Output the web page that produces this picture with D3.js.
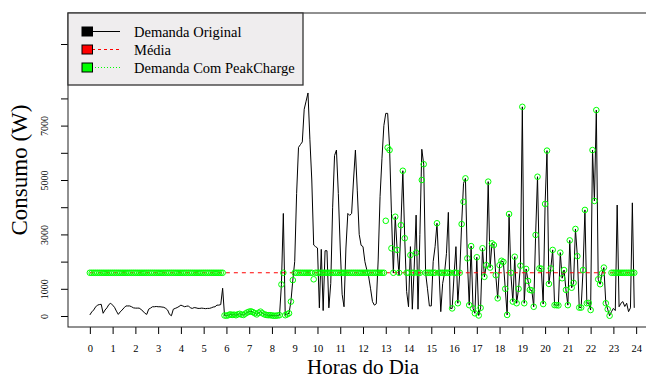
<!DOCTYPE html>
<html><head><meta charset="utf-8">
<script src="https://cdn.jsdelivr.net/npm/d3@7"></script>
<style>
body{margin:0;background:#fff}
svg{display:block}
text{font-family:"Liberation Serif","Times New Roman",serif;fill:#000}
</style>
</head><body>
<svg id="c" width="646" height="378"></svg>
<script>
// ---------- data ----------
const hourTicks = [0,1,2,3,4,5,6,7,8,9,10,11,12,13,14,15,16,17,18,19,20,21,22,23,24];
const yTicks = [0,1000,2000,3000,4000,5000,6000,7000,8000,10000];
const yLabels = [0,1000,3000,5000,7000];
const legendLabels = ["Demanda Original","Média","Demanda Com PeakCharge"];
const stepsPerHour = 12; // 5-minute samples
const mediaValue = 1590;

const demandaOriginal = [
 40,150,220,330,400,420,430,100,220,300,
 420,470,400,320,180,60,150,220,300,370,
 370,370,340,300,290,290,290,240,180,100,
 60,250,290,340,340,350,340,340,330,320,
 280,220,60,10,250,280,310,350,400,370,
 340,360,370,300,280,310,300,280,280,290,
 280,270,280,280,300,330,340,400,400,420,
 1020,20,10,30,60,40,50,30,60,80,
 50,40,90,130,160,170,140,100,60,120,
 160,100,60,40,30,30,20,10,10,20,
 30,1160,3770,30,60,100,530,1320,2000,4500,
 6200,6300,6400,7600,7900,8200,6500,5000,2610,2550,
 2500,300,2450,200,2400,2400,300,1200,4000,5900,
 6100,4500,2500,800,340,2500,3770,3700,3770,5000,
 6100,4600,3000,2600,2550,2000,1700,1440,1000,530,
 400,450,2060,4400,5800,7000,7450,7450,6220,3780,
 1580,3650,2430,1500,3340,5340,2860,900,340,2550,
 250,1800,3710,250,3000,6130,5580,1590,1000,370,
 370,2000,2550,3410,1800,160,1200,1590,2300,3810,
 280,280,1500,2550,470,1590,3380,4880,5060,2120,
 400,2570,280,100,2160,20,300,2490,1440,1870,
 4940,1780,2670,2610,1500,650,1870,2030,1990,1000,
 40,3750,1500,530,2180,470,1000,1850,7690,470,
 1730,1290,960,940,340,2980,5120,1750,1740,440,
 4120,6080,1180,1750,2430,400,400,390,2330,1390,
 1690,960,400,2780,1040,1220,3200,2200,310,310,
 1690,3900,470,480,220,6100,4230,7570,1350,1170,
 1570,1780,470,250,10,160,280,200,4080,340,
 470,530,350,470,160,300,4160,300
];

const demandaPeakCharge = [
 1590,1590,1590,1590,1590,1590,1590,1590,1590,1590,
 1590,1590,1590,1590,1590,1590,1590,1590,1590,1590,
 1590,1590,1590,1590,1590,1590,1590,1590,1590,1590,
 1590,1590,1590,1590,1590,1590,1590,1590,1590,1590,
 1590,1590,1590,1590,1590,1590,1590,1590,1590,1590,
 1590,1590,1590,1590,1590,1590,1590,1590,1590,1590,
 1590,1590,1590,1590,1590,1590,1590,1590,1590,1590,
 1590,20,10,30,60,40,50,30,60,80,
 50,40,90,130,160,170,140,100,60,120,
 160,100,60,40,30,30,20,10,10,20,
 30,1160,1590,30,60,100,530,1320,1590,1590,
 1590,1590,1590,1590,1590,1590,1590,1590,1350,1590,
 1590,1590,1590,1590,1590,1590,1590,1590,1590,1590,
 1590,1590,1590,1590,1590,1590,1590,1590,1590,1590,
 1590,1590,1590,1590,1590,1590,1590,1590,1590,1590,
 1590,1590,1590,1590,1590,1590,3500,6190,6100,2490,
 1590,3650,2430,1590,3340,5340,2860,1590,1590,2240,
 1590,1590,2330,1590,1590,5000,5580,1590,1590,1590,
 1590,1590,1590,3410,1590,1590,1590,1590,1590,1590,
 1590,280,1590,1590,470,1590,3380,4200,5060,2120,
 400,2570,280,100,2160,20,300,2490,1440,1870,
 4940,1780,2670,2610,1500,650,1870,2030,1990,1000,
 40,3750,1590,530,2180,470,1000,1850,7690,470,
 1730,1290,960,940,340,2980,5120,1750,1740,440,
 4120,6080,1180,1750,2430,400,400,390,2330,1390,
 1690,960,400,2780,1040,1220,3200,2200,310,310,
 1690,3900,470,480,220,6100,4230,7570,1350,1170,
 1570,1780,470,250,10,1590,1590,1590,1590,1590,
 1590,1590,1590,1590,1590,1590,1590,1590
];

// ---------- chart ----------
const svg = d3.select("#c");
const x = d3.scaleLinear().domain([-0.96, 24.96]).range([68, 658]);
const y = d3.scaleLinear().domain([-404, 11140]).range([327, 13]);
const hourOf = i => i / stepsPerHour;

// x axis
const gx = svg.append("g").attr("transform","translate(0,327)")
  .call(d3.axisBottom(x).tickValues(hourTicks).tickSize(7).tickPadding(10.5).tickFormat(d3.format("d")));
gx.select(".domain").remove();
gx.selectAll(".tick line").attr("stroke","#000");
gx.selectAll("text").attr("font-size","10.5px").attr("font-family","Liberation Serif, serif").attr("fill","#000");

// y axis
const gy = svg.append("g").attr("transform","translate(68,0)")
  .call(d3.axisLeft(y).tickValues(yTicks).tickSize(7).tickFormat(d => yLabels.includes(d) ? d : ""));
gy.select(".domain").remove();
gy.selectAll(".tick line").attr("stroke","#000");
gy.selectAll("text")
  .attr("x",0).attr("dy",0)
  .attr("transform","translate(-20.5,0) rotate(-90)")
  .attr("text-anchor","middle")
  .attr("font-size","10px").attr("font-family","Liberation Serif, serif").attr("fill","#000");

// clip
svg.append("clipPath").attr("id","clip").append("rect")
  .attr("x",68).attr("y",13).attr("width",590).attr("height",314);
const plot = svg.append("g").attr("clip-path","url(#clip)");

const idx = d3.range(demandaOriginal.length);

// original demand
plot.append("path")
  .attr("d", d3.line().x(i => x(hourOf(i))).y(i => y(demandaOriginal[i]))(idx))
  .attr("fill","none").attr("stroke","#000").attr("stroke-width",1);

// mean
plot.append("line")
  .attr("x1", x(hourOf(0))).attr("x2", x(hourOf(idx.length-1)))
  .attr("y1", y(mediaValue)).attr("y2", y(mediaValue))
  .attr("stroke","#ff0000").attr("stroke-width",1).attr("stroke-dasharray","4,4");

// peakcharge points
plot.selectAll("circle.pc").data(idx).join("circle")
  .attr("class","pc")
  .attr("cx", i => x(hourOf(i))).attr("cy", i => y(demandaPeakCharge[i]))
  .attr("r",2.8).attr("fill","none").attr("stroke","#00ff00").attr("stroke-width",1);

// box
svg.append("rect").attr("x",68).attr("y",13).attr("width",590).attr("height",314)
  .attr("fill","none").attr("stroke","#222").attr("stroke-width",1);

// axis titles
svg.append("text").attr("x", 363).attr("y", 373.5)
  .attr("text-anchor","middle").attr("font-size","21px").text("Horas do Dia");
svg.append("text").attr("transform","translate(27,170) rotate(-90)")
  .attr("text-anchor","middle").attr("font-size","23px").text("Consumo (W)");

// legend
const lg = svg.append("g");
lg.append("rect").attr("x",68).attr("y",13).attr("width",235).attr("height",72)
  .attr("fill","#efedee").attr("stroke","#333").attr("stroke-width",1.3);
const legColors = ["#000000","#ff0000","#00ff00"];
const legDash = [null,"3,3","1,2"];
const rowY = [31.5, 49.5, 67.5];
legendLabels.forEach((lab, k) => {
  lg.append("line").attr("x1",92).attr("x2",120).attr("y1",rowY[k]).attr("y2",rowY[k])
    .attr("stroke",legColors[k]).attr("stroke-width",1).attr("stroke-dasharray",legDash[k]);
  lg.append("rect").attr("x",82).attr("y",rowY[k]-4.5).attr("width",10.5).attr("height",9)
    .attr("fill",legColors[k]).attr("stroke","#000").attr("stroke-width",1);
  lg.append("text").attr("x",134).attr("y",rowY[k]+5).attr("font-size","14.5px").text(lab);
});
</script>
</body></html>
